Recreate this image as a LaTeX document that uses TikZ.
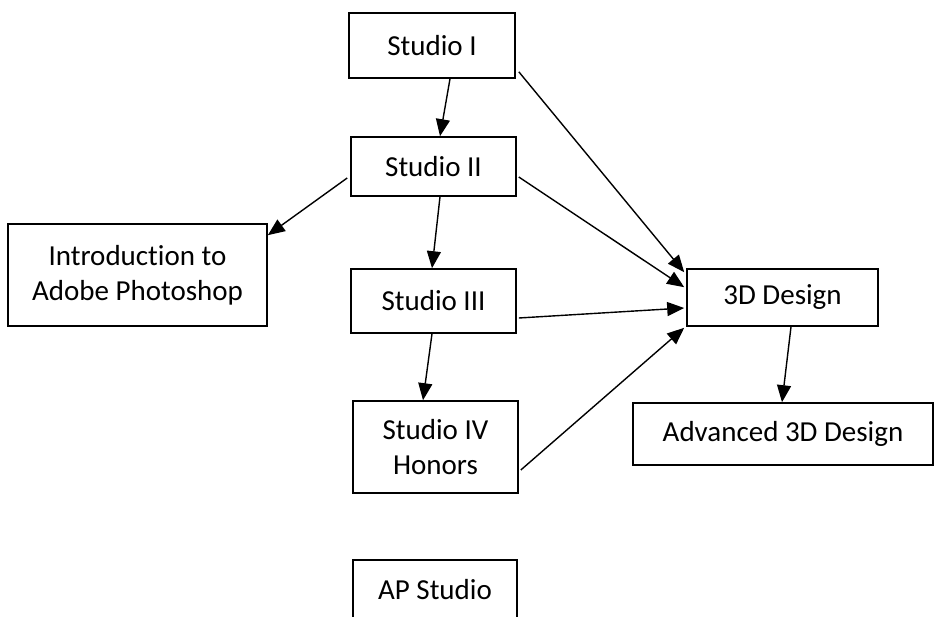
\documentclass[tikz,border=0pt]{standalone}
\usepackage{fontspec}
\setmainfont[Ligatures=NoCommon]{Carlito}
\usetikzlibrary{arrows.meta}
\begin{document}
\begin{tikzpicture}[x=1pt,y=-1pt,
  box/.style={draw=black,line width=1.6pt,inner sep=0pt,align=center,
    font=\fontsize{29}{35}\selectfont},
  conn/.style={line width=1.4pt,-{Triangle[length=17pt,width=14pt]}}]
\useasboundingbox[fill=white] (0,0) rectangle (934,617);
\node[box,minimum width=166pt,minimum height=65pt] (s1) at (432,45.5) {Studio I};
\node[box,minimum width=165pt,minimum height=59pt] (s2) at (433.5,166.5) {Studio II};
\node[box,minimum width=259pt,minimum height=102pt] (intro) at (137.5,275) {Introduction to\\Adobe Photoshop};
\node[box,minimum width=165pt,minimum height=64pt] (s3) at (433.5,301) {Studio III};
\node[box,minimum width=165pt,minimum height=92pt] (s4) at (435.5,447) {Studio IV\\Honors};
\node[box,minimum width=191pt,minimum height=57pt] (d3) at (782.5,297.5) {3D Design};
\node[box,minimum width=300pt,minimum height=62pt] (adv) at (783,434) {Advanced 3D Design};
\node[box,minimum width=164pt,minimum height=60pt] (ap) at (435,590) {AP Studio};
\draw[conn] ([xshift=18pt]s1.south) -- ([xshift=6.5pt]s2.north);
\draw[conn] ([xshift=-3pt,yshift=-11.5pt]s2.west) -- ([yshift=-12pt]intro.north east);
\draw[conn] ([xshift=6.5pt]s2.south) -- ([xshift=-1.5pt]s3.north);
\draw[conn] ([xshift=-1.5pt]s3.south) -- ([xshift=-12.5pt]s4.north);
\draw[conn] ([xshift=8.5pt]d3.south) -- ([xshift=-1pt]adv.north);
\draw[conn] ([xshift=3pt,yshift=7pt]s1.south east) -- ([xshift=-2pt,yshift=-4pt]d3.north west);
\draw[conn] ([xshift=2pt,yshift=-10.5pt]s2.east) -- ([xshift=-2pt,yshift=-19pt]d3.north west);
\draw[conn] ([xshift=2pt,yshift=-17pt]s3.east) -- ([xshift=-2pt,yshift=-10.5pt]d3.west);
\draw[conn] ([xshift=2pt,yshift=-23pt]s4.east) -- ([xshift=-2pt,yshift=-1pt]d3.south west);
\end{tikzpicture}
\end{document}
